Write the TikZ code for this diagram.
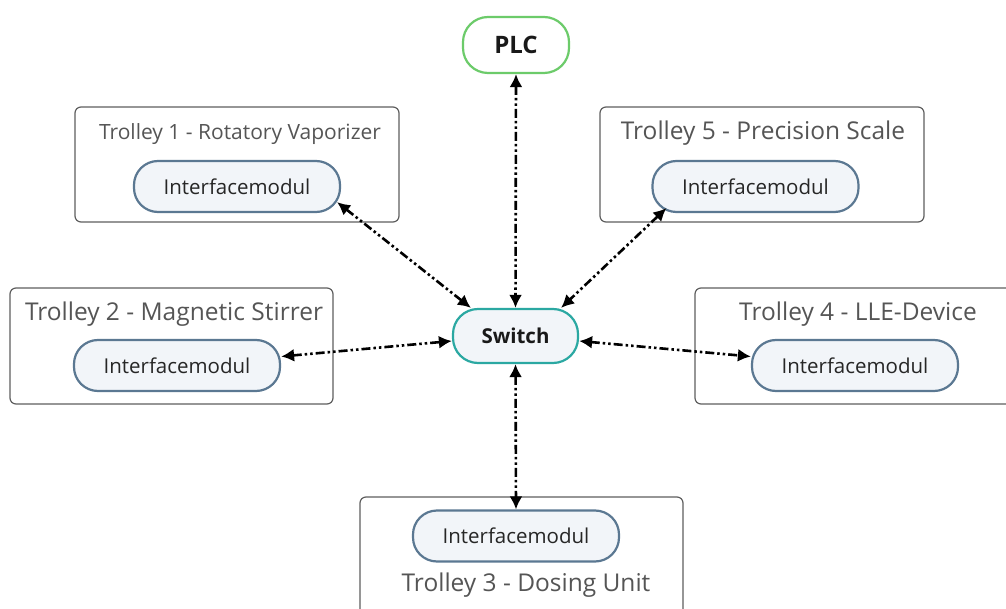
\documentclass[tikz,border=0pt]{standalone}
\usepackage{fontspec}
\setmainfont{Open Sans}
\usetikzlibrary{arrows.meta}
\definecolor{titlegray}{HTML}{555555}
\definecolor{framegray}{HTML}{5E5E5E}
\definecolor{modborder}{HTML}{5B7892}
\definecolor{modfill}{HTML}{F2F5F9}
\definecolor{plcgreen}{HTML}{6CCB6A}
\definecolor{switchteal}{HTML}{2BA8A2}
\tikzset{
  trolley/.style={draw=framegray, line width=1.2pt, rounded corners=6pt, fill=white, inner sep=0pt},
  module/.style={draw=modborder, line width=2.2pt, fill=modfill, rounded corners=24pt,
    minimum width=206pt, minimum height=51pt, inner sep=0pt, font=\fontsize{20.5}{24}\selectfont, text=black!85},
  hub/.style={line width=2.2pt, rounded corners=25pt, inner sep=0pt, text=black!90},
  ttitle/.style={text=titlegray, inner sep=0pt, font=\fontsize{24.5}{28}\selectfont},
  link/.style={line width=2.6pt, dash pattern=on 9pt off 3pt on 2.5pt off 3pt on 2.5pt off 3pt,
    {Latex[length=13pt,width=13pt]}-{Latex[length=13pt,width=13pt]}}
}
\begin{document}
\begin{tikzpicture}[x=1pt,y=-1pt]
\useasboundingbox (0,0) rectangle (1006,609);
% trolley frames
\node[trolley, minimum width=324pt, minimum height=115pt] (t1) at (237,164.5) {};
\node[trolley, minimum width=324pt, minimum height=115pt] (t5) at (762,164.5) {};
\node[trolley, minimum width=323pt, minimum height=116pt] (t2) at (171.5,346) {};
\node[trolley, minimum width=330pt, minimum height=116pt] (t4) at (860,346) {};
\node[trolley, minimum width=323pt, minimum height=130pt] (t3) at (521.5,562) {};
% titles
\node[ttitle, font=\fontsize{21}{24}\selectfont] (h1) at (240,134) {Trolley 1 - Rotatory Vaporizer};
\node[ttitle] (h5) at (763,133) {Trolley 5 - Precision Scale};
\node[ttitle] (h2) at (174,314) {Trolley 2 - Magnetic Stirrer};
\node[ttitle] (h4) at (858,314) {Trolley 4 - LLE-Device};
\node[ttitle] (h3) at (526,585) {Trolley 3 - Dosing Unit};
% modules
\node[module] (m1) at (237,186.5) {Interfacemodul};
\node[module] (m5) at (755.5,186.5) {Interfacemodul};
\node[module] (m2) at (177,365.5) {Interfacemodul};
\node[module] (m4) at (855,365.5) {Interfacemodul};
\node[module] (m3) at (516,536) {Interfacemodul};
% hubs
\node[hub, draw=plcgreen, fill=white, minimum width=106pt, minimum height=56pt,
  font=\bfseries\fontsize{24}{28}\selectfont] (plc) at (516,45) {PLC};
\node[hub, draw=switchteal, fill=modfill, minimum width=125pt, minimum height=54pt,
  font=\bfseries\fontsize{20.5}{24}\selectfont] (sw) at (515.5,336) {Switch};
% links
\draw[link] (plc.south) -- (sw.north);
\draw[link] ([shift={(-4,-11)}]m1.south east) -- ([xshift=19pt]sw.north west);
\draw[link] ([shift={(15,-5)}]m5.south west) -- ([xshift=-18pt]sw.north east);
\draw[link] ([yshift=9pt]m2.east) -- ([yshift=-5pt]sw.west);
\draw[link] ([yshift=-5pt]sw.east) -- ([yshift=9pt]m4.west);
\draw[link] (sw.south) -- (m3.north);
\end{tikzpicture}
\end{document}
